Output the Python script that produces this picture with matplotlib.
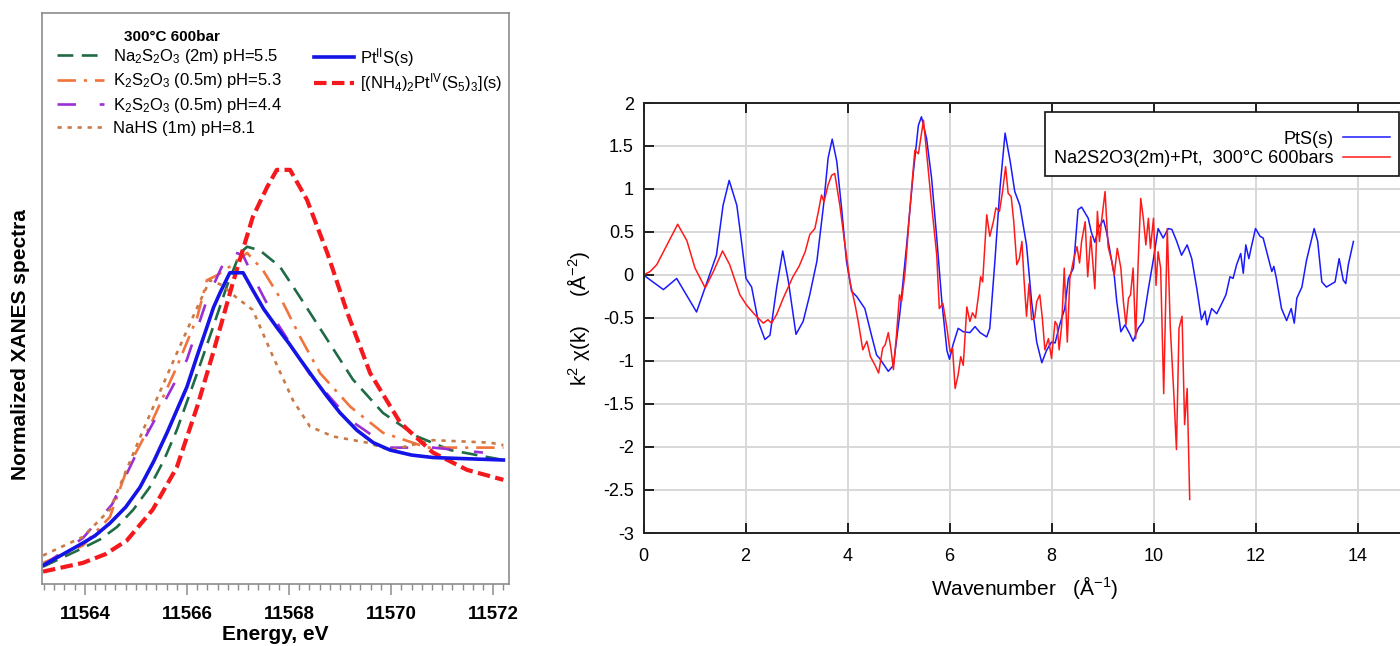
import matplotlib
matplotlib.use('Agg')
import matplotlib.pyplot as plt
from matplotlib.ticker import MultipleLocator

plt.rcParams['font.family'] = ['Liberation Sans', 'DejaVu Sans']
plt.rcParams['mathtext.fontset'] = 'custom'
plt.rcParams['mathtext.rm'] = 'Liberation Sans'
plt.rcParams['mathtext.it'] = 'Liberation Sans:italic'
plt.rcParams['mathtext.bf'] = 'Liberation Sans:bold'
plt.rcParams['axes.unicode_minus'] = False

# ---------------- Left panel: XANES spectra ----------------
pts_E = [11563.16, 11563.96, 11564.20, 11564.49, 11564.80, 11565.08, 11565.35, 11565.61,
         11565.80, 11566.00, 11566.20, 11566.39, 11566.52, 11566.65, 11566.84, 11567.10,
         11567.29, 11567.50, 11567.76, 11568.00, 11568.22, 11568.50, 11568.75, 11569.00,
         11569.33, 11569.65, 11569.98, 11570.40, 11570.82, 11571.50, 11572.20]
pts_y = [0.145, 0.33, 0.39, 0.49, 0.62, 0.78, 0.99, 1.22, 1.40, 1.59, 1.84, 2.07, 2.23,
         2.35, 2.51, 2.51, 2.37, 2.22, 2.07, 1.94, 1.81, 1.65, 1.51, 1.38, 1.24, 1.14,
         1.08, 1.04, 1.02, 1.01, 1.00]

pt4_E = [11563.18, 11563.96, 11564.40, 11564.82, 11565.33, 11565.80, 11566.20, 11566.51,
         11566.90, 11567.29, 11567.57, 11567.76, 11568.02, 11568.35, 11568.75, 11569.14,
         11569.59, 11570.18, 11570.82, 11571.49, 11572.20]
pt4_y = [0.10, 0.17, 0.24, 0.35, 0.60, 0.94, 1.43, 1.86, 2.43, 2.96, 3.20, 3.34, 3.34,
         3.10, 2.67, 2.19, 1.70, 1.30, 1.06, 0.92, 0.84]

na_E = [11563.18, 11563.96, 11564.30, 11564.63, 11564.95, 11565.27, 11565.55, 11565.80,
        11566.20, 11566.51, 11566.78, 11567.04, 11567.18, 11567.43, 11567.82, 11568.22,
        11568.75, 11569.25, 11569.84, 11570.51, 11571.16, 11572.20]
na_y = [0.14, 0.29, 0.36, 0.46, 0.60, 0.78, 1.00, 1.24, 1.70, 2.07, 2.40, 2.67, 2.72,
        2.69, 2.56, 2.31, 1.97, 1.65, 1.38, 1.19, 1.08, 1.00]

k53_E = [11563.18, 11563.96, 11564.49, 11564.82, 11565.27, 11565.80, 11566.20, 11566.39,
         11566.59, 11566.84, 11567.18, 11567.49, 11567.88, 11568.22, 11568.61, 11569.20,
         11569.84, 11570.71, 11571.49, 11572.20]
k53_y = [0.17, 0.31, 0.54, 0.92, 1.27, 1.75, 2.15, 2.45, 2.49, 2.56, 2.67, 2.53, 2.27,
         1.99, 1.70, 1.43, 1.22, 1.10, 1.10, 1.10]

k44_E = [11563.18, 11563.96, 11564.53, 11565.02, 11565.47, 11566.00, 11566.39, 11566.65,
         11566.84, 11567.10, 11567.33, 11567.76, 11568.41, 11569.20, 11569.98, 11570.82,
         11571.80]
k44_y = [0.15, 0.37, 0.64, 1.06, 1.40, 1.81, 2.29, 2.53, 2.69, 2.65, 2.45, 2.11, 1.69,
         1.32, 1.10, 1.10, 1.06]

nahs_E = [11563.18, 11563.96, 11564.49, 11565.14, 11565.80, 11566.20, 11566.45, 11566.69,
          11566.94, 11567.29, 11567.69, 11568.08, 11568.41, 11568.86, 11569.53, 11569.98,
          11570.82, 11571.94, 11572.20]
nahs_y = [0.23, 0.38, 0.60, 1.24, 1.86, 2.23, 2.45, 2.41, 2.32, 2.21, 1.83, 1.48, 1.27,
          1.19, 1.14, 1.08, 1.16, 1.14, 1.12]

left_ticks = [11564, 11566, 11568, 11570, 11572]

# ---------------- Right panel: EXAFS k^2 chi(k) ----------------
pts_k = [0.0, 0.39, 0.65, 1.04, 1.43, 1.56, 1.68, 1.83, 1.93, 2.01, 2.12, 2.25, 2.38, 2.48,
         2.61, 2.73, 2.84, 2.99, 3.13, 3.26, 3.40, 3.53, 3.62, 3.70, 3.79, 3.89, 3.98, 4.08,
         4.18, 4.34, 4.47, 4.57, 4.63, 4.80, 4.90, 5.03, 5.16, 5.29, 5.39, 5.45, 5.55, 5.65,
         5.75, 5.85, 5.95, 6.00, 6.07, 6.17, 6.27, 6.40, 6.50, 6.60, 6.73, 6.79, 6.89, 6.99,
         7.09, 7.19, 7.28, 7.38, 7.51, 7.61, 7.71, 7.81, 7.90, 8.00, 8.07, 8.16, 8.26, 8.33,
         8.43, 8.52, 8.59, 8.72, 8.78, 8.85, 8.93, 9.02, 9.08, 9.15, 9.23, 9.28, 9.36, 9.44,
         9.53, 9.60, 9.70, 9.80, 9.90, 10.00, 10.09, 10.19, 10.29, 10.36, 10.45, 10.55, 10.66,
         10.75, 10.85, 10.94, 11.01, 11.05, 11.14, 11.24, 11.34, 11.42, 11.50, 11.56, 11.63,
         11.71, 11.76, 11.81, 11.87, 11.92, 12.00, 12.09, 12.15, 12.22, 12.32, 12.36, 12.41,
         12.51, 12.61, 12.70, 12.76, 12.81, 12.91, 13.00, 13.15, 13.22, 13.30, 13.39, 13.56,
         13.64, 13.72, 13.77, 13.82, 13.92]
pts_chi = [0.0, -0.17, -0.04, -0.43, 0.23, 0.81, 1.10, 0.81, 0.35, -0.04, -0.14, -0.54, -0.75,
           -0.70, -0.15, 0.28, -0.07, -0.69, -0.54, -0.23, 0.16, 0.81, 1.36, 1.58, 1.32, 0.74,
           0.16, -0.19, -0.25, -0.39, -0.70, -0.93, -0.97, -1.12, -1.05, -0.43, 0.35, 1.19,
           1.74, 1.84, 1.59, 1.12, 0.43, -0.31, -0.88, -0.98, -0.81, -0.62, -0.66, -0.67,
           -0.60, -0.67, -0.72, -0.62, 0.16, 1.01, 1.65, 1.32, 0.97, 0.81, 0.35, -0.31, -0.78,
           -1.02, -0.88, -0.78, -0.79, -0.58, -0.39, -0.04, 0.08, 0.76, 0.79, 0.66, 0.50, 0.38,
           0.56, 0.64, 0.50, 0.27, 0.0, -0.31, -0.66, -0.58, -0.68, -0.77, -0.62, -0.54, -0.16,
           0.19, 0.54, 0.43, 0.54, 0.53, 0.40, 0.23, 0.35, 0.19, -0.16, -0.52, -0.42, -0.58,
           -0.39, -0.45, -0.33, -0.23, -0.02, -0.04, 0.12, 0.25, 0.02, 0.35, 0.19, 0.33, 0.54,
           0.45, 0.43, 0.27, 0.04, 0.10, -0.04, -0.39, -0.53, -0.39, -0.56, -0.27, -0.14, 0.17,
           0.54, 0.39, -0.08, -0.14, -0.08, 0.19, -0.06, -0.10, 0.12, 0.39]

na_k = [0.0, 0.13, 0.26, 0.46, 0.67, 0.85, 1.01, 1.21, 1.37, 1.55, 1.69, 1.89, 2.02, 2.18,
        2.35, 2.44, 2.51, 2.61, 2.74, 2.93, 3.05, 3.17, 3.26, 3.36, 3.43, 3.49, 3.54, 3.62,
        3.69, 3.75, 3.85, 3.95, 4.05, 4.15, 4.21, 4.30, 4.38, 4.45, 4.54, 4.61, 4.69, 4.74,
        4.80, 4.85, 4.90, 4.96, 5.02, 5.06, 5.13, 5.22, 5.32, 5.39, 5.49, 5.55, 5.65, 5.75,
        5.80, 5.87, 5.95, 6.01, 6.06, 6.11, 6.17, 6.22, 6.27, 6.34, 6.40, 6.45, 6.51, 6.57,
        6.61, 6.65, 6.73, 6.79, 6.86, 6.91, 6.98, 7.04, 7.10, 7.15, 7.21, 7.26, 7.32, 7.37,
        7.42, 7.46, 7.51, 7.56, 7.61, 7.67, 7.71, 7.77, 7.82, 7.87, 7.94, 8.00, 8.07, 8.11,
        8.15, 8.20, 8.25, 8.31, 8.36, 8.43, 8.50, 8.55, 8.59, 8.66, 8.71, 8.77, 8.85, 8.90,
        8.94, 8.98, 9.05, 9.11, 9.18, 9.23, 9.29, 9.36, 9.41, 9.46, 9.51, 9.55, 9.60, 9.65,
        9.70, 9.75, 9.80, 9.85, 9.90, 9.94, 10.00, 10.05, 10.09, 10.14, 10.20, 10.27, 10.33,
        10.40, 10.45, 10.50, 10.56, 10.61, 10.66, 10.71]
na_chi = [0.0, 0.04, 0.12, 0.35, 0.59, 0.40, 0.08, -0.15, 0.04, 0.28, 0.12, -0.23, -0.35,
          -0.46, -0.56, -0.52, -0.56, -0.46, -0.27, -0.02, 0.10, 0.27, 0.47, 0.54, 0.74, 0.93,
          0.85, 1.05, 1.16, 1.18, 0.81, 0.35, -0.08, -0.35, -0.54, -0.87, -0.77, -0.95, -1.05,
          -1.14, -0.85, -0.81, -0.67, -0.85, -1.10, -0.70, -0.23, -0.31, 0.04, 0.74, 1.45,
          1.41, 1.80, 1.43, 0.81, 0.23, -0.39, -0.33, -0.62, -0.89, -0.85, -1.32, -1.16, -0.95,
          -1.05, -0.37, -0.54, -0.44, -0.50, -0.23, -0.02, -0.08, 0.70, 0.45, 0.62, 0.78, 0.74,
          0.97, 1.26, 0.95, 0.91, 0.62, 0.12, 0.19, 0.39, -0.04, -0.48, -0.10, -0.52, -0.50,
          -0.31, -0.23, -0.50, -0.87, -0.74, -0.97, -0.54, -0.58, -0.87, -0.58, 0.08, -0.78,
          -0.04, 0.17, 0.33, 0.14, 0.39, 0.62, -0.02, 0.45, -0.16, 0.74, 0.39, 0.62, 0.97,
          0.33, 0.16, 0.0, 0.31, 0.08, -0.31, -0.58, -0.27, -0.23, 0.08, -0.74, 0.16, 0.89,
          0.66, 0.35, 0.66, 0.31, 0.66, -0.12, 0.27, 0.08, -1.38, 0.54, -0.62, -1.40, -2.03,
          -0.62, -0.48, -1.74, -1.32, -2.61]

right_xticks = [0, 2, 4, 6, 8, 10, 12, 14]
right_yticks = [2, 1.5, 1, 0.5, 0, -0.5, -1, -1.5, -2, -2.5, -3]

# ---------------- Figure ----------------
W, H = 1400, 646
fig = plt.figure(figsize=(W / 100, H / 100), dpi=100)


def fx(px):
    return px / W


def fy(py):
    return 1 - py / H


# ----- Left axes -----
axL = fig.add_axes([fx(42), fy(584), (509 - 42) / W, (584 - 13) / H])
c_green = '#1f6b45'
c_orange = '#f0743c'
c_purple = '#9a2fd6'
c_brown = '#c97a45'
c_blue = '#1414e6'
c_red = '#f5181c'

l_na, = axL.plot(na_E, na_y, color=c_green, lw=1.9, dashes=(6, 3.2))
l_k53, = axL.plot(k53_E, k53_y, color=c_orange, lw=1.9, dashes=(7, 3, 1.2, 3))
l_k44, = axL.plot(k44_E, k44_y, color=c_purple, lw=1.9, dashes=(7, 9))
l_nahs, = axL.plot(nahs_E, nahs_y, color=c_brown, lw=1.9, dashes=(1.6, 2.2))
l_pt4, = axL.plot(pt4_E, pt4_y, color=c_red, lw=3.0, dashes=(3, 1.3))
l_pts, = axL.plot(pts_E, pts_y, color=c_blue, lw=2.6)

axL.set_xlim(11563.16, 11572.31)
axL.set_ylim(0, 4.605)
axL.set_xticks(left_ticks)
axL.xaxis.set_minor_locator(MultipleLocator(0.2))
axL.set_yticks([])
for s in axL.spines.values():
    s.set_color('#8c8c8c')
    s.set_linewidth(1.2)
axL.tick_params(axis='x', which='major', direction='out', length=8, width=1.1,
                color='#8c8c8c', labelsize=13.5, pad=8)
axL.tick_params(axis='x', which='minor', direction='out', length=4, width=1.0,
                color='#8c8c8c')
for lab in axL.get_xticklabels():
    lab.set_fontweight('bold')
axL.set_xlabel('Energy, eV', fontsize=15, fontweight='bold', labelpad=1)
fig.text(fx(21), fy(345), 'Normalized XANES spectra', rotation=90, fontsize=15,
         fontweight='bold', ha='center', va='center')

fig.text(fx(124), fy(37), '300°C 600bar', fontsize=11, fontweight='bold',
         ha='left', va='center')
leg1 = axL.legend([l_na, l_k53, l_k44, l_nahs],
                  ['Na$_2$S$_2$O$_3$ (2m) pH=5.5', 'K$_2$S$_2$O$_3$ (0.5m) pH=5.3',
                   'K$_2$S$_2$O$_3$ (0.5m) pH=4.4', 'NaHS (1m) pH=8.1'],
                  loc='upper left', bbox_to_anchor=(fx(57), fy(47)),
                  bbox_transform=fig.transFigure, frameon=False, fontsize=12,
                  handlelength=2.8, handletextpad=0.55, labelspacing=0.33,
                  borderpad=0, borderaxespad=0)
axL.add_artist(leg1)
axL.legend([l_pts, l_pt4],
           ['Pt$^{\\mathrm{II}}$S(s)',
            '[(NH$_4$)$_2$Pt$^{\\mathrm{IV}}$(S$_5$)$_3$](s)'],
           loc='upper left', bbox_to_anchor=(fx(314), fy(46)),
           bbox_transform=fig.transFigure, frameon=False, fontsize=12,
           handlelength=2.4, handletextpad=0.35, labelspacing=0.15,
           borderpad=0, borderaxespad=0)

# ----- Right axes -----
axR = fig.add_axes([fx(643.5), fy(533), (1459.5 - 643.5) / W, (533 - 103) / H])
axR.plot(pts_k, pts_chi, color='#1a1aff', lw=1.1, label='PtS(s)')
axR.plot(na_k, na_chi, color='#ff1a1a', lw=1.1, label='Na2S2O3(2m)+Pt,  300°C 600bars')
axR.set_xlim(0, 16)
axR.set_ylim(-3, 2)
axR.set_xticks(right_xticks)
axR.set_yticks(right_yticks)
axR.set_yticklabels([f'{v:g}' for v in right_yticks])
axR.grid(True, color='#d6d6d6', lw=1.3)
axR.set_axisbelow(True)
axR.spines['right'].set_visible(False)
for side in ['left', 'bottom', 'top']:
    axR.spines[side].set_color('#222222')
    axR.spines[side].set_linewidth(1.4)
axR.tick_params(axis='x', direction='in', length=7, width=1.2, top=True,
                labelsize=13, pad=11)
axR.tick_params(axis='y', direction='in', length=7, width=1.2, labelsize=13, pad=7)
axR.set_xlabel('Wavenumber   (Å$^{-1}$)', fontsize=15)
axR.xaxis.set_label_coords((1025 - 643.5) / 816, -0.095)
fig.text(fx(579), fy(318), 'k$^2$ χ(k)     (Å$^{-2}$)', rotation=90, fontsize=15,
         ha='center', va='center')
legR = axR.legend(loc='upper right', bbox_to_anchor=(fx(1399), fy(112)),
                  bbox_transform=fig.transFigure, markerfirst=False, fontsize=13,
                  handlelength=2.6, handletextpad=0.5, labelspacing=0.15,
                  borderpad=0.5, borderaxespad=0, fancybox=False, framealpha=1,
                  edgecolor='#111111', title=' ', title_fontsize=5)
legR.get_frame().set_linewidth(1.2)

fig.savefig('out.png', dpi=100)
